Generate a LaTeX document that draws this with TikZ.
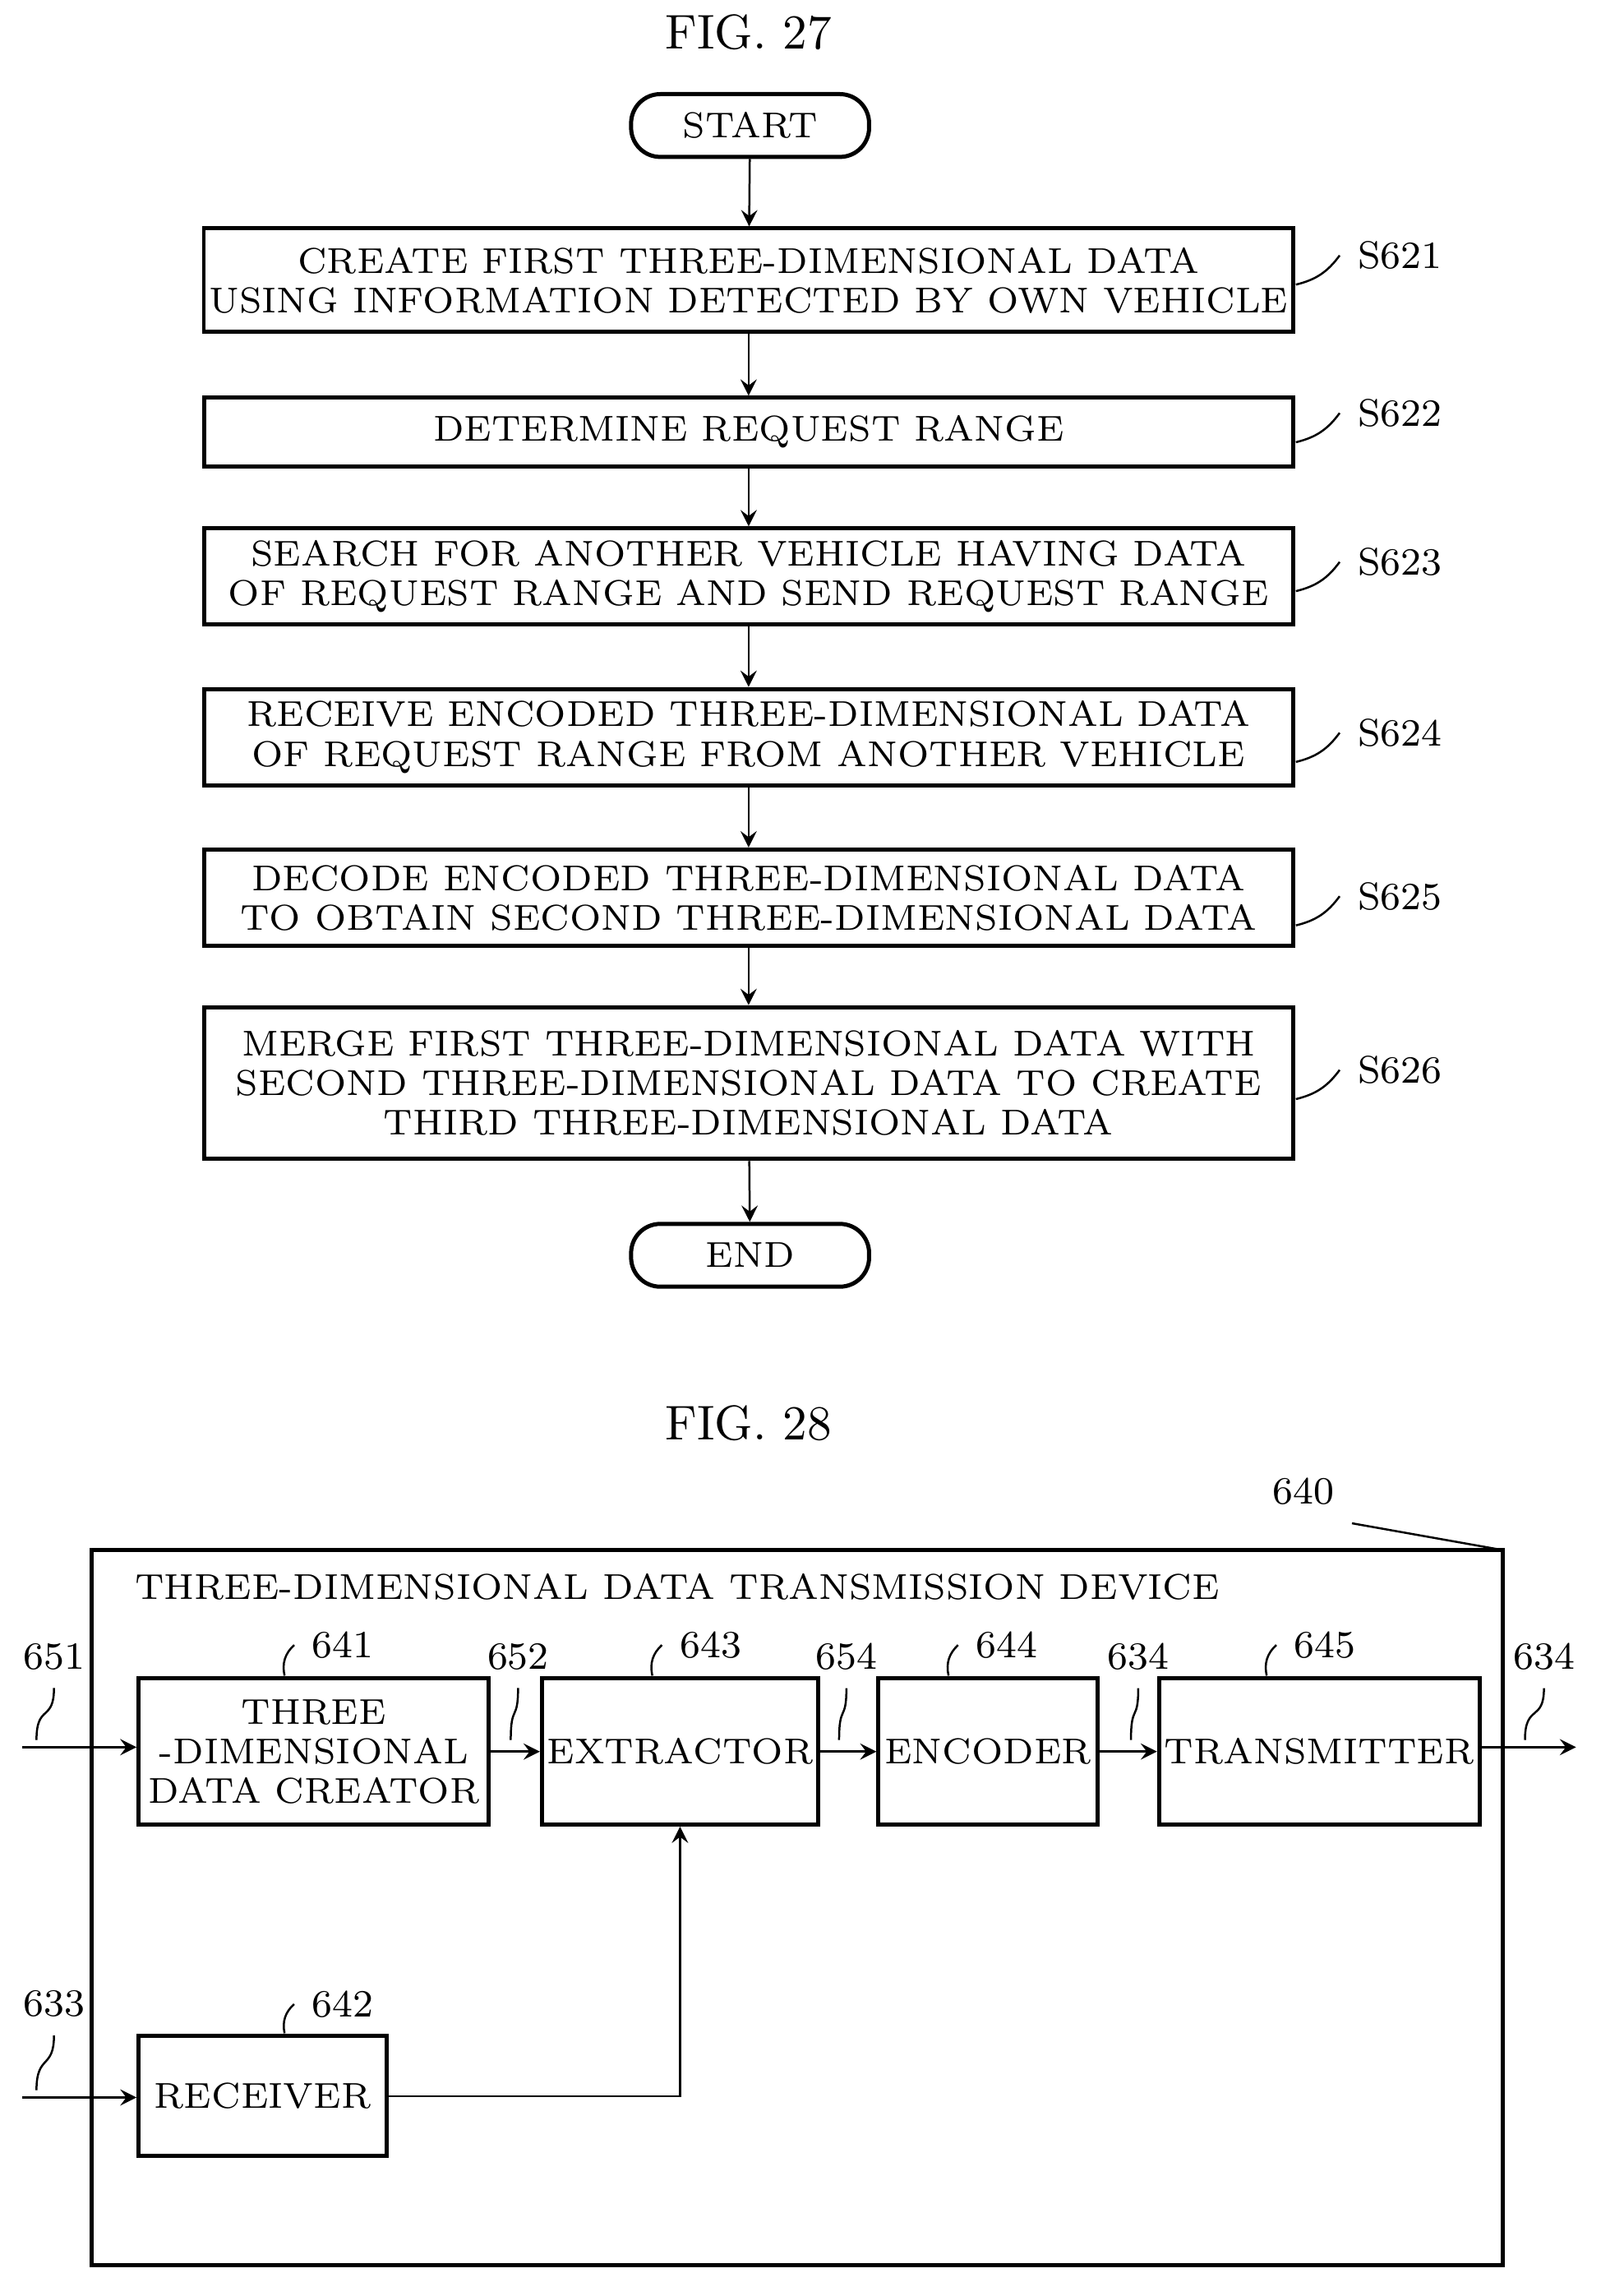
\documentclass[tikz,border=0pt]{standalone}
\usetikzlibrary{positioning}
\begin{document}
\begin{tikzpicture}[x=0.01cm,y=-0.01cm,>=stealth,font=\fontsize{7}{7.7}\selectfont,
  proc/.style={draw,thick,minimum width=7.46cm,align=center,inner sep=1pt},
  term/.style={draw,thick,rounded corners=0.2cm,minimum width=1.63cm,minimum height=0.43cm},
  blk/.style={draw,thick,align=center,inner sep=1pt},
  lbl/.style={font=\fontsize{7.5}{8}\selectfont},
  fig/.style={font=\fontsize{9.5}{10}\selectfont}]
  \useasboundingbox (0,0) rectangle (1097,1573);

  % Figure 27: flowchart
  \node[fig] at (513,22) {FIG. 27};
  \node[term] (start) at (514,86) {START};
  \node[proc,minimum height=0.71cm] (s621) at (513,192) {CREATE FIRST THREE-DIMENSIONAL DATA\\USING INFORMATION DETECTED BY OWN VEHICLE};
  \node[proc,minimum height=0.47cm] (s622) at (513,296) {DETERMINE REQUEST RANGE};
  \node[proc,minimum height=0.66cm] (s623) at (513,395) {SEARCH FOR ANOTHER VEHICLE HAVING DATA\\OF REQUEST RANGE AND SEND REQUEST RANGE};
  \node[proc,minimum height=0.66cm] (s624) at (513,505) {RECEIVE ENCODED THREE-DIMENSIONAL DATA\\OF REQUEST RANGE FROM ANOTHER VEHICLE};
  \node[proc,minimum height=0.66cm] (s625) at (513,615) {DECODE ENCODED THREE-DIMENSIONAL DATA\\TO OBTAIN SECOND THREE-DIMENSIONAL DATA};
  \node[proc,minimum height=1.04cm] (s626) at (513,742) {MERGE FIRST THREE-DIMENSIONAL DATA WITH\\SECOND THREE-DIMENSIONAL DATA TO CREATE\\THIRD THREE-DIMENSIONAL DATA};
  \node[term] (end) at (514,860) {END};

  \draw[->] (start) -- (s621);
  \draw[->] (s621) -- (s622);
  \draw[->] (s622) -- (s623);
  \draw[->] (s623) -- (s624);
  \draw[->] (s624) -- (s625);
  \draw[->] (s625) -- (s626);
  \draw[->] (s626) -- (end);

  % step numbers
  \foreach \n/\y in {621/175,622/283,623/385,624/502,625/614,626/733}{
    \node[lbl,anchor=west] (l\n) at (918,\y) {S\n};
    \draw (l\n.west) to[bend left=20] ++(-30,20);
  }

  % Figure 28: block diagram
  \node[fig] at (513,975) {FIG. 28};
  \draw[thick] (63,1062) rectangle (1030,1552);
  \node[anchor=west] at (80,1087) {THREE-DIMENSIONAL DATA TRANSMISSION DEVICE};
  \node[lbl] (n640) at (893,1022) {640};
  \draw (n640.south east) -- (1030,1062);

  \node[blk,minimum width=2.4cm,minimum height=1cm] (creator) at (215,1200) {THREE\\-DIMENSIONAL\\DATA CREATOR};
  \node[blk,minimum width=1.82cm,minimum height=1cm] (extractor) at (466,1200) {EXTRACTOR};
  \node[blk,minimum width=1.5cm,minimum height=1cm] (encoder) at (677,1200) {ENCODER};
  \node[blk,minimum width=2.12cm,minimum height=1cm] (transmitter) at (904,1200) {TRANSMITTER};
  \node[blk,minimum width=1.7cm,minimum height=0.82cm] (receiver) at (180,1436) {RECEIVER};
  \coordinate (in651) at (15,1197);
  \coordinate (in633) at (15,1437);
  \coordinate (out634) at (1080,1197);

  \draw[->] (in651) -- (creator.west |- in651);
  \draw[->] (creator) -- (extractor);
  \draw[->] (extractor) -- (encoder);
  \draw[->] (encoder) -- (transmitter);
  \draw[->] (transmitter.east |- out634) -- (out634);
  \draw[->] (in633) -- (receiver.west |- in633);
  \draw[->] (receiver) -| (extractor);

  % reference numerals
  \foreach \t/\x/\y/\tx/\ty in {641/235/1127/195/1148,643/487/1127/447/1148,644/690/1127/650/1148,645/908/1127/868/1148,642/235/1373/195/1393}{
    \node[lbl] (r\t) at (\x,\y) {\t};
    \draw (r\t.west) to[bend right=30] (\tx,\ty);
  }
  \foreach \t/\x/\y/\tx/\ty in {651/37/1135/25/1197,652/355/1135/350/1197,654/580/1135/575/1197,634/780/1135/775/1197,634/1058/1135/1045/1197,633/37/1373/25/1437}{
    \node[lbl] (q\x\y) at (\x,\y) {\t};
    \draw (q\x\y.south) .. controls (\x,\y+45) and (\tx,\ty-30) .. (\tx,\ty-5);
  }
\end{tikzpicture}
\end{document}
